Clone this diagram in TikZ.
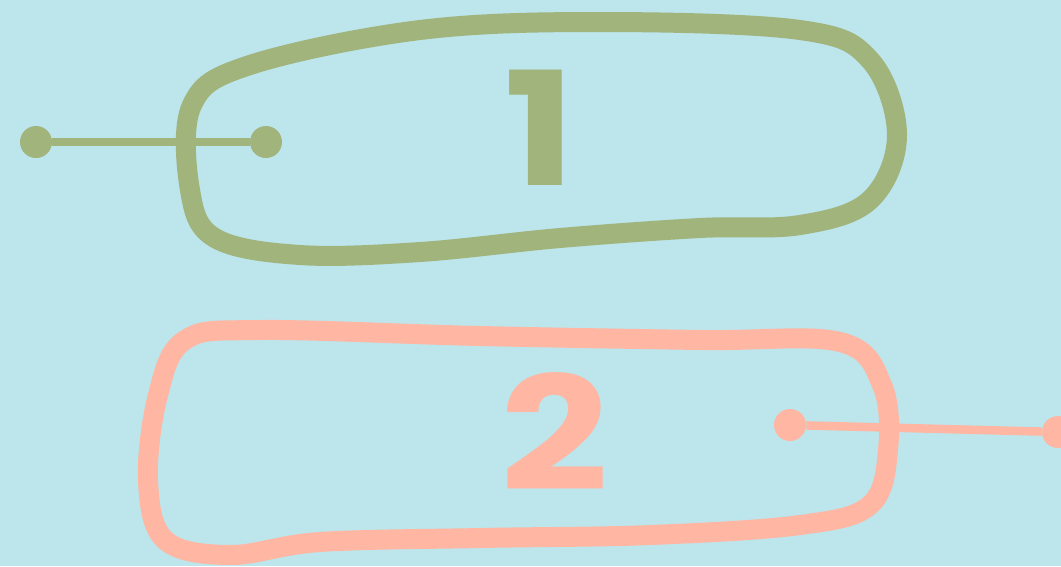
\documentclass[tikz,border=0pt]{standalone}
\usepackage{fontspec}
\setmainfont{Poppins}
\usetikzlibrary{positioning}
\definecolor{skybg}{HTML}{BDE5EC}
\definecolor{sagegreen}{HTML}{A0B47C}
\definecolor{salmon}{HTML}{FFB6A3}
\newcommand{\widedigit}[1]{\scalebox{1.2}[1]{#1}}

\begin{document}
\begin{tikzpicture}[
  x=0.02cm, y=-0.02cm,
  loopline/.style={line width=0.4cm, line join=round},
  dot/.style={circle, inner sep=0pt, minimum size=0.64cm},
  link/.style={line width=0.17cm},
  digit/.style={font=\fontsize{90}{90}\selectfont\bfseries, inner sep=0pt},
]
\fill[skybg] (0,0) rectangle (1061,566);
\useasboundingbox (0,0) rectangle (1061,566);

% loop 1
\draw[loopline, draw=sagegreen] plot[smooth cycle, tension=0.6] coordinates {
  (192,105) (250,65) (420,30) (600,22) (800,30) (870,60) (897,135)
  (870,200) (800,225) (700,228) (560,238) (420,252) (300,255) (215,238) (190,190)};
\node[digit, text=sagegreen] (num1) at (540,128) {\widedigit{1}};
\node[dot, fill=sagegreen] (g1) at (36,142) {};
\node[dot, fill=sagegreen] (g2) at (266,142) {};
\draw[link, sagegreen] (g1) -- (g2);

% loop 2
\draw[loopline, draw=salmon] plot[smooth cycle, tension=0.6] coordinates {
  (185,340) (260,330) (480,336) (700,340) (840,342) (882,385) (888,450)
  (870,505) (800,525) (650,535) (480,538) (320,542) (230,555) (165,540)
  (148,480) (158,395)};
\node[digit, text=salmon] (num2) at (555,432) {\widedigit{2}};
\node[dot, fill=salmon] (s1) at (790,425) {};
\node[dot, fill=salmon] (s2) at (1058,432) {};
\draw[link, salmon] (s1) -- (s2);
\end{tikzpicture}
\end{document}
